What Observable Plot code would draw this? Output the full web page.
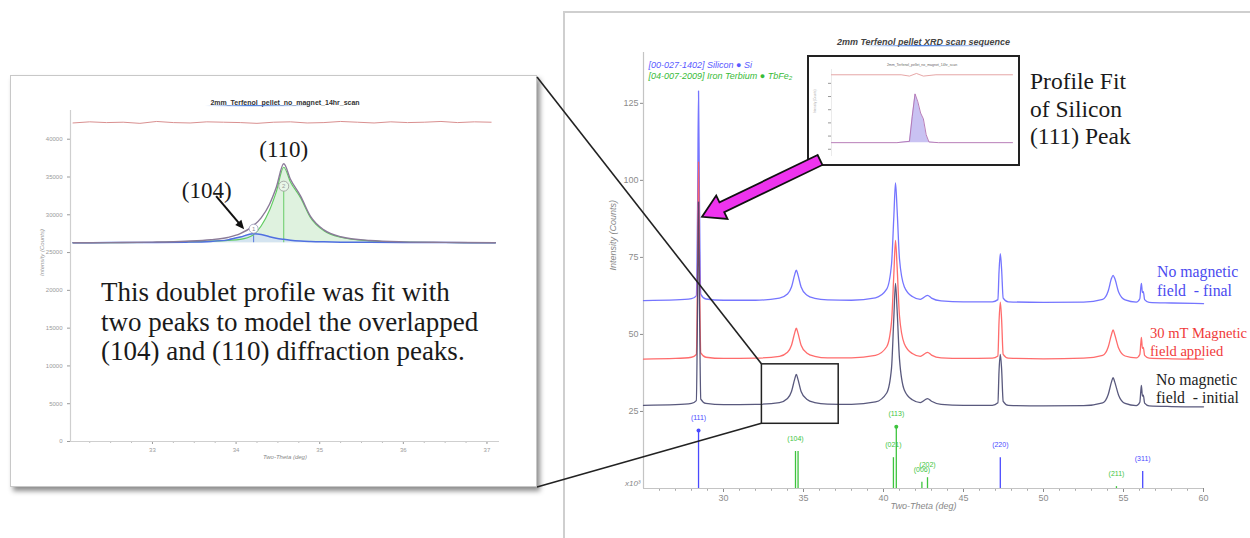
<!DOCTYPE html>
<html><head><meta charset="utf-8">
<script src="https://cdn.jsdelivr.net/npm/d3@7"></script>
<script src="https://cdn.jsdelivr.net/npm/@observablehq/plot@0.6"></script>
<style>
body{margin:0;background:#fff;}
#page{position:relative;width:1250px;height:538px;overflow:hidden;background:#fff;font-family:"Liberation Sans",Arial,sans-serif;}
.abs{position:absolute;}
.serif{font-family:"Liberation Serif","Times New Roman",serif;white-space:nowrap;}
</style></head><body><div id="page">
<div class="abs" style="left:563px;top:11px;width:700px;height:540px;border-left:2px solid #cfcfcf;border-top:2px solid #cfcfcf;"></div>
<div id="main" class="abs" style="left:565px;top:12px;"></div>
<div id="leftPanel" class="abs" style="left:10px;top:75px;width:527px;height:412px;background:#fff;border:1px solid #c8c8c8;box-shadow:3px 4px 5px rgba(0,0,0,0.45);box-sizing:border-box;"></div>
<div id="thumb" class="abs" style="left:807px;top:55px;width:213px;height:111px;border:2px solid #222;box-sizing:border-box;background:#fff;"></div>
<svg id="overlay" class="abs" style="left:0;top:0" width="1250" height="538"></svg>
<div class="abs serif" style="left:1030px;top:68px;font-size:23.5px;line-height:27.5px;color:#1a1a1a;">Profile Fit<br>of Silicon<br>(111) Peak</div>
<div class="abs serif" style="left:1157px;top:262px;font-size:15.8px;line-height:19px;color:#4b4bf0;">No magnetic<br>field&nbsp; - final</div>
<div class="abs serif" style="left:1150px;top:324px;font-size:14.6px;line-height:18px;color:#f03a3a;">30 mT Magnetic<br>field applied</div>
<div class="abs serif" style="left:1156px;top:371px;font-size:15.8px;line-height:17.5px;color:#222;">No magnetic<br>field&nbsp; - initial</div>
<div class="abs serif" style="left:101px;top:278px;font-size:27px;line-height:29.5px;color:#1a1a1a;">This doublet profile was fit with<br>two peaks to model the overlapped<br>(104) and (110) diffraction peaks.</div>
</div>
<script>
// ---------- main XRD scan sequence ----------
const twoTheta = [25,27,28,28.3,28.38,28.44,28.5,28.58,28.9,30,32,33.5,34,34.25,34.45,34.55,34.65,34.85,35.2,35.7,36.5,38,39.5,40.2,40.5,40.65,40.75,40.85,41,41.3,41.8,42.3,42.6,42.75,43,43.6,45,46.8,47.15,47.22,47.3,47.38,47.48,47.8,50,52.5,53.7,54.05,54.25,54.35,54.45,54.7,55.1,55.8,56.02,56.08,56.12,56.18,56.24,56.32,56.6,58,60];
const scanFinal = [61.0,61.2,61.6,62.5,92,129,92,63,61.5,61.1, 61.1,61.8,63.1,65.4,69.4,70.9,69.4,65.4,62.8,61.7, 61.2,61.1,61.9,64.7,72.7,88.7,99.2,90.5,74.5,65.5, 62.3,61.4,62.3,62.7,61.8,60.9,60.6,60.6,61.3,70.3, 76.2,71.3,61.8,60.6,60.4,60.5,61.4,64.2,68.2,69.2, 68.2,63.7,61.2,60.5,61.6,65.1,66.6,63.6,63.9,61.3, 60.4,60.2,60.0];
const scanField = [42.0,42.2,42.6,43.5,72,106,72,44,42.6,42.2, 42.3,42.9,44.2,46.5,50.5,52.0,50.5,46.5,44.0,42.9, 42.4,42.4,43.2,46.0,54.0,70.0,80.5,72.0,56.0,47.0, 43.8,42.9,43.8,44.2,43.3,42.4,42.2,42.3,43.0,54.0, 60.5,55.0,43.5,42.3,42.1,42.3,43.2,46.0,50.0,51.5, 50.0,45.5,43.0,42.4,43.5,47.0,49.0,45.5,45.8,43.2, 42.3,42.1,42.0];
const scanInitial = [27.0,27.2,27.6,28.5,60,93,60,29,27.6,27.2, 27.3,27.9,29.2,31.5,35.5,37.0,35.5,31.5,29.0,27.9, 27.4,27.3,28.1,31.0,39.0,56.0,66.6,58.0,42.0,32.0, 28.8,27.9,28.8,29.2,28.3,27.3,27.0,27.0,27.8,38.0, 43.5,39.0,28.3,27.0,26.8,26.9,27.8,30.6,34.6,36.0, 34.6,30.2,27.6,26.9,28.0,31.5,33.5,30.0,30.3,27.7, 26.8,26.6,26.5];

const siPos = [28.44, 47.30, 56.20];
const siInt = [18.8, 10, 5.5];
const siHkl = ["(111)", "(220)", "(311)"];
const tbPos = [34.50, 34.66, 40.62, 40.80, 42.40, 42.75, 54.56];
const tbInt = [12, 12, 10, 20, 2, 3.5, 0.6];
const tbHkl = ["(104)", "", "(021)", "(113)", "(006)", "(202)", "(211)"];

const mainXTicks = [30,35,40,45,50,55,60];
const mainXMinor = [26,27,28,29,31,32,33,34,36,37,38,39,41,42,43,44,46,47,48,49,51,52,53,54,56,57,58,59];
const mainYTicks = [25,50,75,100,125];
const zoomX = [32.4, 37.2];
const zoomY = [21, 40.3];

// ---------- left inset: doublet profile fit ----------
const insetTheta = [32.05,32.5,33.0,33.4,33.7,33.9,34.05,34.2,34.3,34.4,34.48,34.57,34.65,34.77,34.89,35.05,35.25,35.6,36.0,36.5,37.1];
const insetObserved = [26300,26320,26380,26500,26700,27000,27500,28500,29600,31400,33600,36750,34700,32500,29800,28000,27100,26600,26420,26350,26300];
const insetFit110 = [26300,26300,26340,26420,26520,26620,26750,27300,28520,30600,33000,36300,34350,32270,29630,27880,27020,26550,26390,26330,26300];
const insetFit104 = [26310,26320,26340,26380,26480,26680,27050,27500,27380,27100,26900,26750,26640,26530,26470,26420,26380,26350,26330,26320,26310];
const insetBackground = 26300;
const residTheta = [32.05,32.25,32.45,32.65,32.85,33.05,33.25,33.45,33.65,33.85,34.05,34.25,34.45,34.65,34.85,35.05,35.25,35.45,35.65,35.85,36.05,36.25,36.45,36.65,36.85,37.05];
const residCounts = [42150,42300,42200,42250,42100,42350,42200,42150,42300,42250,42200,42100,42250,42300,42150,42200,42350,42250,42150,42300,42200,42250,42350,42200,42300,42250];
const peakPos = [34.21, 34.57];
const peakTop = [27500, 36300];
const peakNames = ["(104)", "(110)"];
const insetXTicks = [33,34,35,36,37];
const insetXMinor = [32.25,32.5,32.75,33.25,33.5,33.75,34.25,34.5,34.75,35.25,35.5,35.75,36.25,36.5,36.75,37.0];
const insetYTicks = [0,5000,10000,15000,20000,25000,30000,35000,40000];

// ---------- thumbnail: silicon (111) fit ----------
const thumbTheta = [27.8,28.27,28.36,28.38,28.40,28.42,28.44,28.46,28.48,28.50,28.57,29.1];
const thumbCounts = [0,0,2,40,74,62,45,36,12,1,0,0];
const thumbResTheta = [27.8,28.3,28.36,28.41,28.46,28.55,29.1];
const thumbRes = [103,103,101,105,101,103,103];

function zip(xs, ys){ if(xs.length!==ys.length) throw new Error("length mismatch "+xs.length+" "+ys.length); return xs.map((x,i)=>({x, y:ys[i]})); }

const finalData = zip(twoTheta, scanFinal);
const fieldData = zip(twoTheta, scanField);
const initialData = zip(twoTheta, scanInitial);
const siSticks = siPos.map((x,i)=>({x, y:siInt[i], hkl:siHkl[i]}));
const tbSticks = tbPos.map((x,i)=>({x, y:tbInt[i], hkl:tbHkl[i]}));

const BLUE="#6666ff", RED="#ff5c5c", DARK="#3c3c66", SIBLUE="#4a4aff", TBGREEN="#3ec43e";
const SERIF = "Liberation Serif, Times New Roman, serif";

const main = Plot.plot({
  width:685, height:526, marginLeft:78, marginRight:47, marginTop:40, marginBottom:50,
  style:{fontFamily:"Liberation Sans, Arial, sans-serif", fontSize:"9px", color:"#8c8c8c", background:"transparent", overflow:"visible"},
  x:{domain:[25,60], ticks:mainXTicks, tickSize:4, tickPadding:2, tickFormat:d=>String(d), label:null},
  y:{domain:[0,141.5], ticks:mainYTicks, tickSize:3, tickPadding:2, tickFormat:d=>String(d), label:null},
  marks:[
    Plot.ruleX(mainXMinor, {x:d=>d, y1:0, y2:-0.9, stroke:"#aaa"}),
    Plot.ruleY([0], {stroke:"#c4c4c4", strokeWidth:1.2}),
    Plot.ruleX([25], {stroke:"#c4c4c4", strokeWidth:1.2}),
    Plot.line(finalData, {x:"x", y:"y", curve:"monotone-x", stroke:BLUE, strokeWidth:1.3, strokeOpacity:0.9}),
    Plot.line(fieldData, {x:"x", y:"y", curve:"monotone-x", stroke:RED, strokeWidth:1.3, strokeOpacity:0.9}),
    Plot.line(initialData, {x:"x", y:"y", curve:"monotone-x", stroke:DARK, strokeWidth:1.3, strokeOpacity:0.85}),
    Plot.ruleX(siSticks, {x:"x", y1:0, y2:"y", stroke:SIBLUE, strokeWidth:1.3}),
    Plot.ruleX(tbSticks, {x:"x", y1:0, y2:"y", stroke:TBGREEN, strokeWidth:1.3}),
    Plot.dot(siSticks.filter(d=>d.hkl==="(111)"), {x:"x", y:"y", r:2, fill:SIBLUE}),
    Plot.dot(tbSticks.filter(d=>d.hkl==="(113)"), {x:"x", y:"y", r:2, fill:TBGREEN}),
    Plot.text(siSticks, {x:"x", y:"y", text:"hkl", dy:-13, fill:SIBLUE, fontSize:7}),
    Plot.text(tbSticks, {x:"x", y:"y", text:"hkl", dy:-13, fill:TBGREEN, fontSize:7}),
    Plot.rect([{x1:zoomX[0], x2:zoomX[1], y1:zoomY[0], y2:zoomY[1]}], {x1:"x1", x2:"x2", y1:"y1", y2:"y2", fill:"none", stroke:"#222", strokeWidth:1.5}),
    Plot.text(["2mm Terfenol pellet XRD scan sequence"], {frameAnchor:"top", dy:-14, fontWeight:"bold", fontStyle:"italic", fontSize:9, fill:"#444"}),
    Plot.text(["[00-027-1402] Silicon \u25CF Si"], {frameAnchor:"top-left", dx:5, dy:9, textAnchor:"start", fontStyle:"italic", fontSize:9, fill:"#5a5aff"}),
    Plot.text(["[04-007-2009] Iron Terbium \u25CF TbFe\u2082"], {frameAnchor:"top-left", dx:5, dy:20, textAnchor:"start", fontStyle:"italic", fontSize:9, fill:"#38bb38"}),
    Plot.text(["Intensity (Counts)"], {frameAnchor:"left", dx:-30, rotate:-90, fontStyle:"italic", fontSize:9, fill:"#888"}),
    Plot.text(["Two-Theta (deg)"], {frameAnchor:"bottom", dy:20, fontStyle:"italic", fontSize:9, fill:"#888"}),
    Plot.text(["x10\u00B3"], {frameAnchor:"bottom-left", dx:-3, dy:-3, textAnchor:"end", fontStyle:"italic", fontSize:8, fill:"#888"})
  ]
});
document.getElementById("main").appendChild(main);

// left inset
const obsData = zip(insetTheta, insetObserved);
const fit110 = insetTheta.map((x,i)=>({x, y1:insetBackground, y2:insetFit110[i]}));
const fit104 = insetTheta.map((x,i)=>({x, y1:insetBackground, y2:insetFit104[i]}));
const residData = zip(residTheta, residCounts);
const peaks = peakPos.map((x,i)=>({x, y:peakTop[i], name:peakNames[i], n:String(i+1)}));

const left = Plot.plot({
  width:525, height:410, marginLeft:59, marginRight:37, marginTop:34, marginBottom:45,
  style:{fontFamily:"Liberation Sans, Arial, sans-serif", fontSize:"6px", color:"#9a9a9a", background:"transparent", overflow:"visible"},
  x:{domain:[32.02,37.15], ticks:insetXTicks, tickSize:3, tickPadding:3, tickFormat:d=>String(d), label:null},
  y:{domain:[0,43800], ticks:insetYTicks, tickSize:3, tickPadding:5, tickFormat:d=>String(d), label:null},
  marks:[
    Plot.ruleX(insetXMinor, {x:d=>d, y1:0, y2:-260, stroke:"#bbb"}),
    Plot.ruleY([0], {stroke:"#cfcfcf", strokeWidth:1.2}),
    Plot.ruleX([32.02], {stroke:"#cfcfcf", strokeWidth:1.2}),
    Plot.line(residData, {x:"x", y:"y", stroke:"#d99090", strokeWidth:1}),
    Plot.areaY(fit110, {x:"x", y1:"y1", y2:"y2", curve:"monotone-x", fill:"#dff2df"}),
    Plot.areaY(fit104, {x:"x", y1:"y1", y2:"y2", curve:"monotone-x", fill:"#d3e2f2", fillOpacity:0.9}),
    Plot.ruleX(peaks.slice(1), {x:"x", y1:"y", y2:insetBackground, insetTop:24, stroke:"#66cc66", strokeWidth:1}),
    Plot.ruleX(peaks.slice(0,1), {x:"x", y1:"y", y2:insetBackground, insetTop:2, stroke:"#5577dd", strokeWidth:1}),
    Plot.line(zip(insetTheta, insetFit110), {x:"x", y:"y", curve:"monotone-x", stroke:"#5fcc5f", strokeWidth:1.1}),
    Plot.line(zip(insetTheta, insetFit104), {x:"x", y:"y", curve:"monotone-x", stroke:"#4f6fe0", strokeWidth:1.5}),
    Plot.line(obsData, {x:"x", y:"y", curve:"monotone-x", stroke:"#8a7a98", strokeWidth:1.4}),
    Plot.dot(peaks.slice(0,1), {x:"x", y:"y", dy:-5, r:4.5, fill:"#fff", stroke:"#9a9ab8", strokeWidth:0.8}),
    Plot.dot(peaks.slice(1), {x:"x", y:"y", dy:19, r:5, fill:"#e8f6e8", stroke:"#999", strokeWidth:0.8}),
    Plot.text(peaks.slice(0,1), {x:"x", y:"y", dy:-5, text:"n", fontSize:6, fill:"#889"}),
    Plot.text(peaks.slice(1), {x:"x", y:"y", dy:19, text:"n", fontSize:6, fill:"#999"}),
    Plot.text(peaks.slice(1), {x:"x", y:"y", dy:-18, text:"name", fontSize:23, fill:"#1a1a1a", fontFamily:SERIF}),
    Plot.text(peaks.slice(0,1), {x:"x", y:"y", dx:-47, dy:-43, text:"name", fontSize:23, fill:"#1a1a1a", fontFamily:SERIF}),
    Plot.text(["2mm_Terfenol_pellet_no_magnet_14hr_scan"], {frameAnchor:"top", dy:-10, fontWeight:"bold", fontSize:7, fill:"#333"}),
    Plot.text(["Intensity (Counts)"], {frameAnchor:"left", dx:-28, rotate:-90, fontStyle:"italic", fontSize:6, fill:"#999"}),
    Plot.text(["Two-Theta (deg)"], {frameAnchor:"bottom", dy:17, fontStyle:"italic", fontSize:6, fill:"#888"})
  ]
});
document.getElementById("leftPanel").appendChild(left);

// thumbnail
const thumb = Plot.plot({
  width:209, height:107, marginLeft:22, marginRight:6, marginTop:12, marginBottom:8,
  style:{fontFamily:"Liberation Sans, Arial, sans-serif", fontSize:"3px", color:"#999", background:"transparent", overflow:"visible"},
  x:{domain:[27.8,29.1], ticks:[], label:null},
  y:{domain:[-21,111], ticks:[-10,10,30,50,70,90], tickSize:3, tickFormat:()=>"", label:null},
  marks:[
    Plot.ruleX([27.8], {stroke:"#ddd", strokeWidth:0.6}),
    Plot.line(zip(thumbResTheta, thumbRes), {x:"x", y:"y", stroke:"#e09090", strokeWidth:0.8}),
    Plot.areaY(zip(thumbTheta, thumbCounts), {x:"x", y:"y", fill:"#c9c2f2"}),
    Plot.line(zip(thumbTheta, thumbCounts), {x:"x", y:"y", stroke:"#b06fb0", strokeWidth:0.9}),
    Plot.text(["2mm_Terfenol_pellet_no_magnet_14hr_scan"], {frameAnchor:"top", dy:-6, fontSize:3.5, fill:"#666"}),
    Plot.text(["Intensity (Counts)"], {frameAnchor:"left", dx:-16, rotate:-90, fontSize:3, fill:"#aaa"})
  ]
});
document.getElementById("thumb").appendChild(thumb);

// ---------- overlay annotations ----------
function scaleFn(chart, name){
  const s = chart.scale(name);
  if (s && typeof s.apply === "function") return v => s.apply(v);
  return d3.scaleLinear(s.domain, s.range);
}
const mx = scaleFn(main,"x"), my = scaleFn(main,"y");
const lx = scaleFn(left,"x"), ly = scaleFn(left,"y");
const MX0=565, MY0=12, LX0=11, LY0=76;
const ov = d3.select("#overlay");
const rLeft = MX0 + mx(zoomX[0]), rTop = MY0 + my(zoomY[1]), rBot = MY0 + my(zoomY[0]);
const panelRight = 537, panelTop = 77, panelBottom = 487;
ov.append("line").attr("x1",panelRight).attr("y1",panelTop).attr("x2",rLeft).attr("y2",rTop).attr("stroke","#222").attr("stroke-width",1.6);
ov.append("line").attr("x1",panelRight).attr("y1",panelBottom).attr("x2",rLeft).attr("y2",rBot).attr("stroke","#222").attr("stroke-width",1.6);

// title underlines
const defs = ov.append("defs");
const g = defs.append("linearGradient").attr("id","ul");
g.append("stop").attr("offset","0%").attr("stop-color","#4a7fe0").attr("stop-opacity",0);
g.append("stop").attr("offset","40%").attr("stop-color","#4a7fe0").attr("stop-opacity",1);
g.append("stop").attr("offset","100%").attr("stop-color","#4a7fe0").attr("stop-opacity",0);
ov.append("rect").attr("x",860).attr("y",45).attr("width",150).attr("height",1.3).attr("fill","url(#ul)");
ov.append("rect").attr("x",205).attr("y",105).attr("width",110).attr("height",1.2).attr("fill","url(#ul)");

// (104) pointer arrow in the left inset
{
  const px = LX0 + lx(peakPos[0]) - 9, py = LY0 + ly(peakTop[0]) - 4;
  const sx = px - 28, sy = py - 33;
  const ang = Math.atan2(py - sy, px - sx);
  ov.append("line").attr("x1",sx).attr("y1",sy).attr("x2",px - 7*Math.cos(ang)).attr("y2",py - 7*Math.sin(ang)).attr("stroke","#111").attr("stroke-width",2);
  const hl=9, hw=4;
  const bx = px - hl*Math.cos(ang), by = py - hl*Math.sin(ang);
  ov.append("polygon").attr("points",[[px,py],[bx - hw*Math.sin(ang), by + hw*Math.cos(ang)],[bx + hw*Math.sin(ang), by - hw*Math.cos(ang)]].map(p=>p.join(",")).join(" ")).attr("fill","#111");
}

// magenta block arrow
{
  const tipX = MX0 + mx(siPos[0]) + 4, tipY = MY0 + my(88);
  const tailX = 820, tailY = 160;
  const dx = tipX - tailX, dy = tipY - tailY, L = Math.hypot(dx, dy);
  const ux = dx/L, uy = dy/L, nx = -uy, ny = ux;
  const sw = 5.5, hw = 13, hl = 22;
  const bx = tipX - ux*hl, by = tipY - uy*hl;
  const pts = [
    [tailX + nx*sw, tailY + ny*sw],
    [bx + nx*sw, by + ny*sw],
    [bx + nx*hw, by + ny*hw],
    [tipX, tipY],
    [bx - nx*hw, by - ny*hw],
    [bx - nx*sw, by - ny*sw],
    [tailX - nx*sw, tailY - ny*sw]
  ];
  ov.append("polygon").attr("points", pts.map(p=>p.join(",")).join(" ")).attr("fill","#ee33ee").attr("stroke","#111").attr("stroke-width",1.8).attr("stroke-linejoin","miter");
}
</script>
</body></html>
